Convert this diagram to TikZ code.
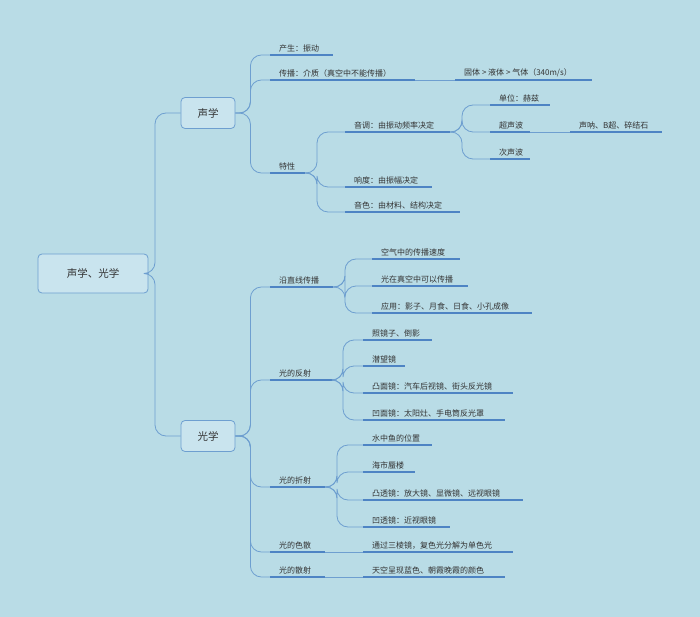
\documentclass[tikz,border=0pt]{standalone}
\usepackage{fontspec}
\setmainfont{Noto Sans CJK SC}
\definecolor{bg}{HTML}{B9DCE6}
\definecolor{ul}{HTML}{4E84C4}
\definecolor{cn}{HTML}{6E9FD0}
\definecolor{bx}{HTML}{C9E4EE}
\definecolor{tx}{HTML}{333333}
\tikzset{
  leaf/.style={anchor=south west,inner xsep=9pt,inner ysep=2.5pt,font=\fontsize{8}{9}\selectfont,text=tx},
  uline/.style={draw=ul,line width=1.3pt},
  conn/.style={draw=cn,line width=0.8pt,rounded corners=11pt},
  topbox/.style={draw=cn,fill=bx,rounded corners=4pt,line width=0.8pt,font=\fontsize{10.5}{12}\selectfont,text=tx}
}
\newcommand\leaf[5]{\node[leaf] (#1) at (#2,#3) {#5}; \coordinate (#1-e) at (#2+#4,#3); \draw[uline] (#1.south west) -- (#1-e);}
\newcommand\br[3]{\draw[conn] (#1) -- ++(#3,0) |- (#2.south west);}
\begin{document}
\begin{tikzpicture}[x=1pt,y=-1pt]
\fill[bg] (0,0) rectangle (700,617);
\useasboundingbox (0,0) rectangle (700,617);
\node[topbox,minimum width=110pt,minimum height=39pt] (root) at (93,273.5) {声学、光学};
\node[topbox,minimum width=54pt,minimum height=31pt] (sx) at (208,113) {声学};
\node[topbox,minimum width=54pt,minimum height=31pt] (gx) at (208,436) {光学};
\draw[conn] (root.east) -- (155,273.5) |- (sx.west);
\draw[conn] (root.east) -- (155,273.5) |- (gx.west);
% 声学
\leaf{s1}{270}{55}{63}{产生：振动}
\leaf{s2}{270}{80}{145}{传播：介质（真空中不能传播）}
\leaf{s2a}{455}{80}{137}{固体 > 液体 > 气体（340m/s）}
\leaf{s3}{270}{173}{35}{特性}
\leaf{s31}{345}{132}{105}{音调：由振动频率决定}
\leaf{s311}{490}{105}{60}{单位：赫兹}
\leaf{s312}{490}{132}{40}{超声波}
\leaf{s3121}{570}{132}{92}{声呐、B超、碎结石}
\leaf{s313}{490}{159}{40}{次声波}
\leaf{s32}{345}{187}{87}{响度：由振幅决定}
\leaf{s33}{345}{212}{115}{音色：由材料、结构决定}
\br{sx.east}{s1}{15}\br{sx.east}{s2}{15}\br{sx.east}{s3}{15}
\draw[conn] (s2-e) -- (s2a.south west);
\br{s3-e}{s31}{12}\br{s3-e}{s32}{12}\br{s3-e}{s33}{12}
\br{s31-e}{s311}{12}\br{s31-e}{s312}{12}\br{s31-e}{s313}{12}
\draw[conn] (s312-e) -- (s3121.south west);
% 光学
\leaf{g1}{270}{287}{63}{沿直线传播}
\leaf{g11}{372}{259}{88}{空气中的传播速度}
\leaf{g12}{372}{286}{96}{光在真空中可以传播}
\leaf{g13}{372}{313}{160}{应用：影子、月食、日食、小孔成像}
\leaf{g2}{270}{380}{63}{光的反射}
\leaf{g21}{363}{340}{69}{照镜子、倒影}
\leaf{g22}{363}{366}{42}{潜望镜}
\leaf{g23}{363}{393}{150}{凸面镜：汽车后视镜、街头反光镜}
\leaf{g24}{363}{420}{142}{凹面镜：太阳灶、手电筒反光罩}
\leaf{g3}{270}{487}{55}{光的折射}
\leaf{g31}{363}{445}{69}{水中鱼的位置}
\leaf{g32}{363}{472}{52}{海市蜃楼}
\leaf{g33}{363}{500}{160}{凸透镜：放大镜、显微镜、远视眼镜}
\leaf{g34}{363}{527}{87}{凹透镜：近视眼镜}
\leaf{g4}{270}{552}{55}{光的色散}
\leaf{g41}{363}{552}{150}{通过三棱镜，复色光分解为单色光}
\leaf{g5}{270}{577}{55}{光的散射}
\leaf{g51}{363}{577}{142}{天空呈现蓝色、朝霞晚霞的颜色}
\br{gx.east}{g1}{15}\br{gx.east}{g2}{15}\br{gx.east}{g3}{15}\br{gx.east}{g4}{15}\br{gx.east}{g5}{15}
\br{g1-e}{g11}{12}\br{g1-e}{g12}{12}\br{g1-e}{g13}{12}
\br{g2-e}{g21}{10}\br{g2-e}{g22}{10}\br{g2-e}{g23}{10}\br{g2-e}{g24}{10}
\br{g3-e}{g31}{12}\br{g3-e}{g32}{12}\br{g3-e}{g33}{12}\br{g3-e}{g34}{12}
\draw[conn] (g4-e) -- (g41.south west);
\draw[conn] (g5-e) -- (g51.south west);
\end{tikzpicture}
\end{document}
